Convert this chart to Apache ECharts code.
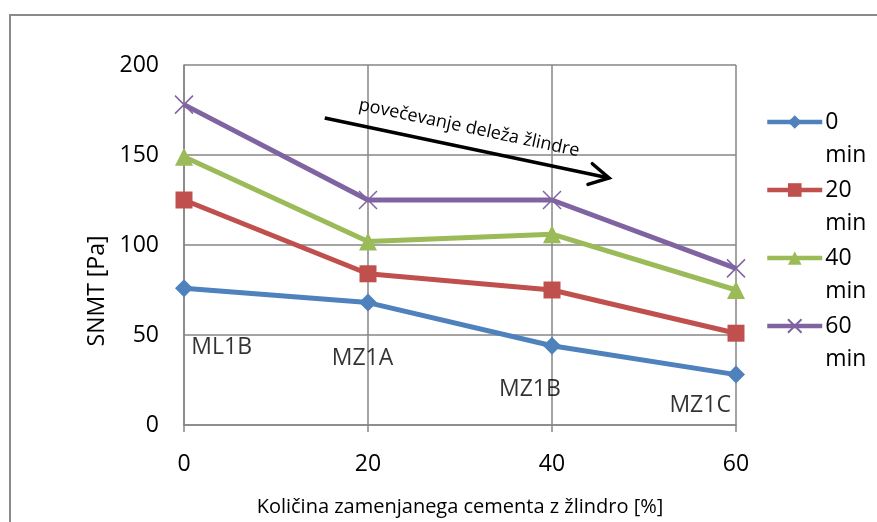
<!DOCTYPE html>
<html>
<head>
<meta charset="utf-8">
<script src="https://cdn.jsdelivr.net/npm/echarts@6/dist/echarts.min.js"></script>
<style>html,body{margin:0;padding:0;background:#fff}#c{width:877px;height:522px}</style>
</head>
<body>
<div id="c"></div>
<script>
// ---- data ----
const xValues = [0, 20, 40, 60];
const seriesNames = ['0 min', '20 min', '40 min', '60 min'];
const v0 = [76, 68, 44, 28];
const v20 = [125, 84, 75, 51];
const v40 = [149, 102, 106, 75];
const v60 = [178, 125, 125, 87];
const sampleLabels = ['ML1B', 'MZ1A', 'MZ1B', 'MZ1C'];
const sampleLabelX = [4.1, 19.4, 37.6, 56.1];
const sampleLabelY = [43.2, 37, 19.8, 10.7];
const arrowStart = [15.3, 170.6];
const arrowEnd = [46.2, 137.2];
const arrowText = 'povečevanje deleža žlindre';
const arrowTextAt = [31.0, 165];
const yTicks = [0, 50, 100, 150, 200];
const xTicks = [0, 20, 40, 60];

const FONT = 'Open Sans';
const colors = ['#4F81BD', '#C0504D', '#9BBB59', '#8064A2'];
const symbols = ['diamond', 'rect', 'triangle', 'path://M0,0L10,10M10,0L0,10'];
const symbolSizes = [18, 17, 18, 18];
const allVals = [v0, v20, v40, v60];

const chart = echarts.init(document.getElementById('c'), null, {renderer: 'canvas'});

const lineSeries = seriesNames.map((n, i) => ({
  name: n,
  type: 'line',
  data: xValues.map((x, j) => [x, allVals[i][j]]),
  symbol: symbols[i],
  symbolSize: symbolSizes[i],
  showAllSymbol: true,
  lineStyle: {color: colors[i], width: 5},
  itemStyle: i === 3
    ? {color: colors[i], borderColor: colors[i], borderWidth: 1.5}
    : {color: colors[i]},
  emphasis: {disabled: true},
  z: 3 + i
}));

const labelSeries = {
  type: 'scatter',
  name: 'labels',
  symbolSize: 0,
  silent: true,
  data: sampleLabels.map((t, i) => ({value: [sampleLabelX[i], sampleLabelY[i]], name: t})),
  label: {
    show: true,
    position: 'inside',
    formatter: p => p.name,
    color: '#000',
    textBorderWidth: 0,
    fontFamily: FONT,
    fontSize: 23
  },
  z: 10
};

const border = {
  type: 'rect',
  shape: {x: 10, y: 15, width: 900, height: 600},
  style: {fill: 'none', stroke: '#8a8a8a', lineWidth: 2},
  silent: true,
  z: -1
};

chart.setOption({
  animation: false,
  backgroundColor: '#fff',
  grid: {left: 184, top: 65, right: 141, bottom: 97, containLabel: false},
  xAxis: {
    type: 'value',
    min: 0, max: 60, interval: 20,
    name: 'Količina zamenjanega cementa z žlindro [%]',
    nameLocation: 'middle',
    nameGap: 72,
    nameTextStyle: {fontFamily: FONT, fontSize: 20, color: '#000'},
    axisLine: {show: true, lineStyle: {color: '#868686', width: 1.5}},
    axisTick: {show: true, length: 7, lineStyle: {color: '#868686', width: 1.5}},
    axisLabel: {fontFamily: FONT, fontSize: 23, color: '#000', margin: 28,
      formatter: v => xTicks.includes(v) ? String(v) : ''},
    splitLine: {show: true, lineStyle: {color: '#868686', width: 1.5}}
  },
  yAxis: {
    type: 'value',
    min: 0, max: 200, interval: 50,
    name: 'SNMT [Pa]',
    nameLocation: 'middle',
    nameGap: 72,
    nameRotate: 90,
    nameTextStyle: {fontFamily: FONT, fontSize: 23, color: '#000', padding: [0, 92, 0, 0]},
    axisLine: {show: true, lineStyle: {color: '#868686', width: 1.5}},
    axisTick: {show: false},
    axisLabel: {fontFamily: FONT, fontSize: 23, color: '#000', margin: 25,
      formatter: v => yTicks.includes(v) ? String(v) : ''},
    splitLine: {show: true, lineStyle: {color: '#868686', width: 1.5}}
  },
  legend: {
    data: seriesNames,
    orient: 'vertical',
    left: 765,
    top: 72.5,
    padding: 0,
    itemWidth: 55,
    itemHeight: 17,
    itemGap: -31,
    lineStyle: {width: 4.5},
    formatter: n => '\n' + n.replace(' ', '\n'),
    textStyle: {fontFamily: FONT, fontSize: 23, color: '#000', lineHeight: 33, padding: [0, 0, 0, -2]},
    selectedMode: false
  },
  graphic: [border],
  series: [...lineSeries, labelSeries]
});

// arrow annotation placed via data coordinates
function drawArrow() {
  const p0 = chart.convertToPixel({gridIndex: 0}, arrowStart);
  const p1 = chart.convertToPixel({gridIndex: 0}, arrowEnd);
  const pt = chart.convertToPixel({gridIndex: 0}, arrowTextAt);
  const ang = Math.atan2(p1[1] - p0[1], p1[0] - p0[0]);
  const L = 22, spread = 0.5;
  const a1 = [p1[0] - L * Math.cos(ang - spread), p1[1] - L * Math.sin(ang - spread)];
  const a2 = [p1[0] - L * Math.cos(ang + spread), p1[1] - L * Math.sin(ang + spread)];
  chart.setOption({
    graphic: [border, {
      type: 'polyline',
      shape: {points: [p0, p1]},
      style: {stroke: '#000', lineWidth: 3.5, fill: 'none'},
      silent: true, z: 20
    }, {
      type: 'polyline',
      shape: {points: [a1, p1, a2]},
      style: {stroke: '#000', lineWidth: 3.5, fill: 'none', lineCap: 'round', lineJoin: 'miter'},
      silent: true, z: 20
    }, {
      type: 'text',
      x: pt[0], y: pt[1],
      rotation: -ang,
      style: {text: arrowText, fontFamily: FONT, fontSize: 18, fill: '#000', align: 'center', verticalAlign: 'middle'},
      silent: true, z: 20
    }]
  }, {replaceMerge: ['graphic']});
}
drawArrow();
</script>
</body>
</html>
